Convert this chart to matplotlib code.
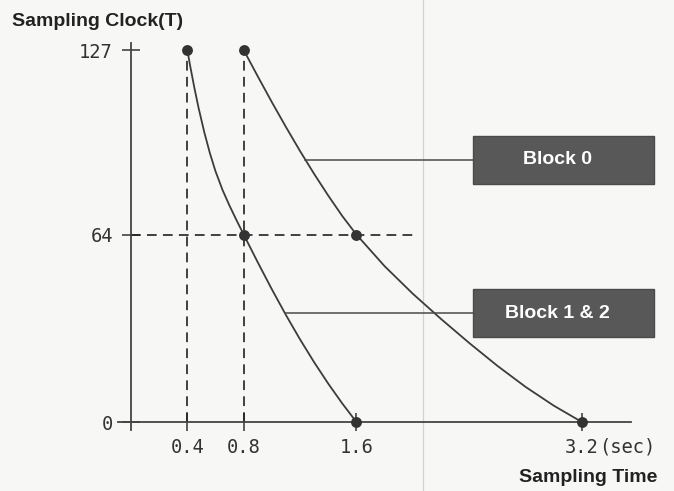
import numpy as np
import matplotlib
matplotlib.use("Agg")
import matplotlib.pyplot as plt
from matplotlib.patches import Rectangle
from matplotlib.lines import Line2D

plt.rcParams['lines.scale_dashes'] = False

# sampling time (sec) against sampling clock (T) for each block
block12_time = [0.40, 0.42, 0.45, 0.48, 0.52, 0.56, 0.60, 0.65, 0.70, 0.75, 0.80,
                0.90, 1.00, 1.10, 1.20, 1.30, 1.40, 1.50, 1.60]
block12_clock = [127, 121.6, 114.1, 107.2, 99.0, 91.8, 85.6, 79.2, 73.8, 68.8, 64,
                 54.5, 45.3, 36.5, 28.2, 20.4, 13.1, 6.3, 0]
block0_time = [0.80, 0.90, 1.00, 1.10, 1.20, 1.30, 1.40, 1.50, 1.60,
               1.80, 2.00, 2.20, 2.40, 2.60, 2.80, 3.00, 3.20]
block0_clock = [127, 118.0, 109.2, 100.7, 92.5, 84.7, 77.3, 70.3, 64,
                53.2, 43.8, 35.2, 27.0, 19.2, 12.0, 5.6, 0]

# start / half / end points of both blocks
marked_time = [0.4, 0.8, 0.8, 1.6, 1.6, 3.2]
marked_clock = [127, 127, 64, 64, 0, 0]

x_ticks = [0.4, 0.8, 1.6, 3.2]
x_tick_labels = ['0.4', '0.8', '1.6', '3.2']
y_ticks = [0, 64, 127]
y_tick_labels = ['0', '64', '127']

block_names = ['Block 0', 'Block 1 & 2']
leader_clock = [89.5, 37.2]   # clock level where each leader leaves its curve

bg = '#f7f7f6'
ink = '#333333'
tick_font = dict(family='DejaVu Sans Mono', size=13.5, color=ink)
bold_font = dict(family='Liberation Sans', weight='bold', size=14)

fig = plt.figure(figsize=(6.74, 4.91), dpi=100, facecolor=bg)

# fold line of the page
fig.add_artist(Line2D([423 / 674, 423 / 674], [0, 1], transform=fig.transFigure,
                      color='#d2d2d2', lw=0.9, zorder=0))

ax = fig.add_axes([0.1755, 0.1244, 0.761, 0.7886])
ax.patch.set_visible(False)
ax.set_xlim(-0.09, 3.55)
ax.set_ylim(-2.7, 129.5)

for side in ['top', 'right']:
    ax.spines[side].set_visible(False)
for side in ['left', 'bottom']:
    ax.spines[side].set_position(('data', 0))
    ax.spines[side].set_color('#444444')
    ax.spines[side].set_linewidth(1.3)

ax.set_xticks(x_ticks)
ax.set_xticklabels(x_tick_labels, **tick_font)
ax.set_yticks(y_ticks)
ax.set_yticklabels(y_tick_labels, **tick_font)
ax.tick_params(axis='x', direction='inout', length=13, width=1.2, colors='#444444', pad=5)
ax.tick_params(axis='y', direction='inout', length=13, width=1.2, colors='#444444', pad=6.5)
for lab in ax.get_xticklabels() + ax.get_yticklabels():
    lab.set_color(ink)

ax.annotate('(sec)', xy=(x_ticks[-1], 0), xytext=(12.3, -11.5), textcoords='offset points',
            ha='left', va='top', **tick_font)

# dashed guides to the block start times and the half clock value
dash = (0, (7, 4.5))
ax.plot([marked_time[0]] * 2, [0, marked_clock[0]], ls=dash, color='#222222', lw=1.2)
ax.plot([marked_time[1]] * 2, [0, marked_clock[1]], ls=dash, color='#222222', lw=1.2)
ax.plot([0, 2.04], [marked_clock[2]] * 2, ls=dash, color='#222222', lw=1.2)

# curves
ax.plot(block0_time, block0_clock, color='#3c3c3c', lw=1.3)
ax.plot(block12_time, block12_clock, color='#3c3c3c', lw=1.3)
ax.plot(marked_time, marked_clock, 'o', ms=6.8, color=ink, zorder=5, clip_on=False)

# labelled boxes with leader lines from the curves
curves = [(block0_time, block0_clock), (block12_time, block12_clock)]
box_left, box_w, box_h = 2.427, 1.285, 16.4
for name, (ts, cs), c_a in zip(block_names, curves, leader_clock):
    t_a = np.interp(c_a, cs[::-1], ts[::-1])
    ax.plot([t_a, box_left], [c_a, c_a], color='#4a4a4a', lw=1.1)
    ax.add_patch(Rectangle((box_left, c_a - box_h / 2), box_w, box_h, facecolor='#585858',
                           edgecolor='#4a4a4a', lw=1, clip_on=False, zorder=4))
    ax.text(box_left + box_w / 2 - 0.04, c_a, name, ha='center', va='center',
            color='white', zorder=6, **bold_font)

fig.text(12 / 674, 1 - 21 / 491, 'Sampling Clock(T)', ha='left', va='center',
         color='#222222', **bold_font)
fig.text(657 / 674, 1 - 478 / 491, 'Sampling Time', ha='right', va='center',
         color='#222222', **bold_font)

fig.savefig('out.png', dpi=100, facecolor=bg)
